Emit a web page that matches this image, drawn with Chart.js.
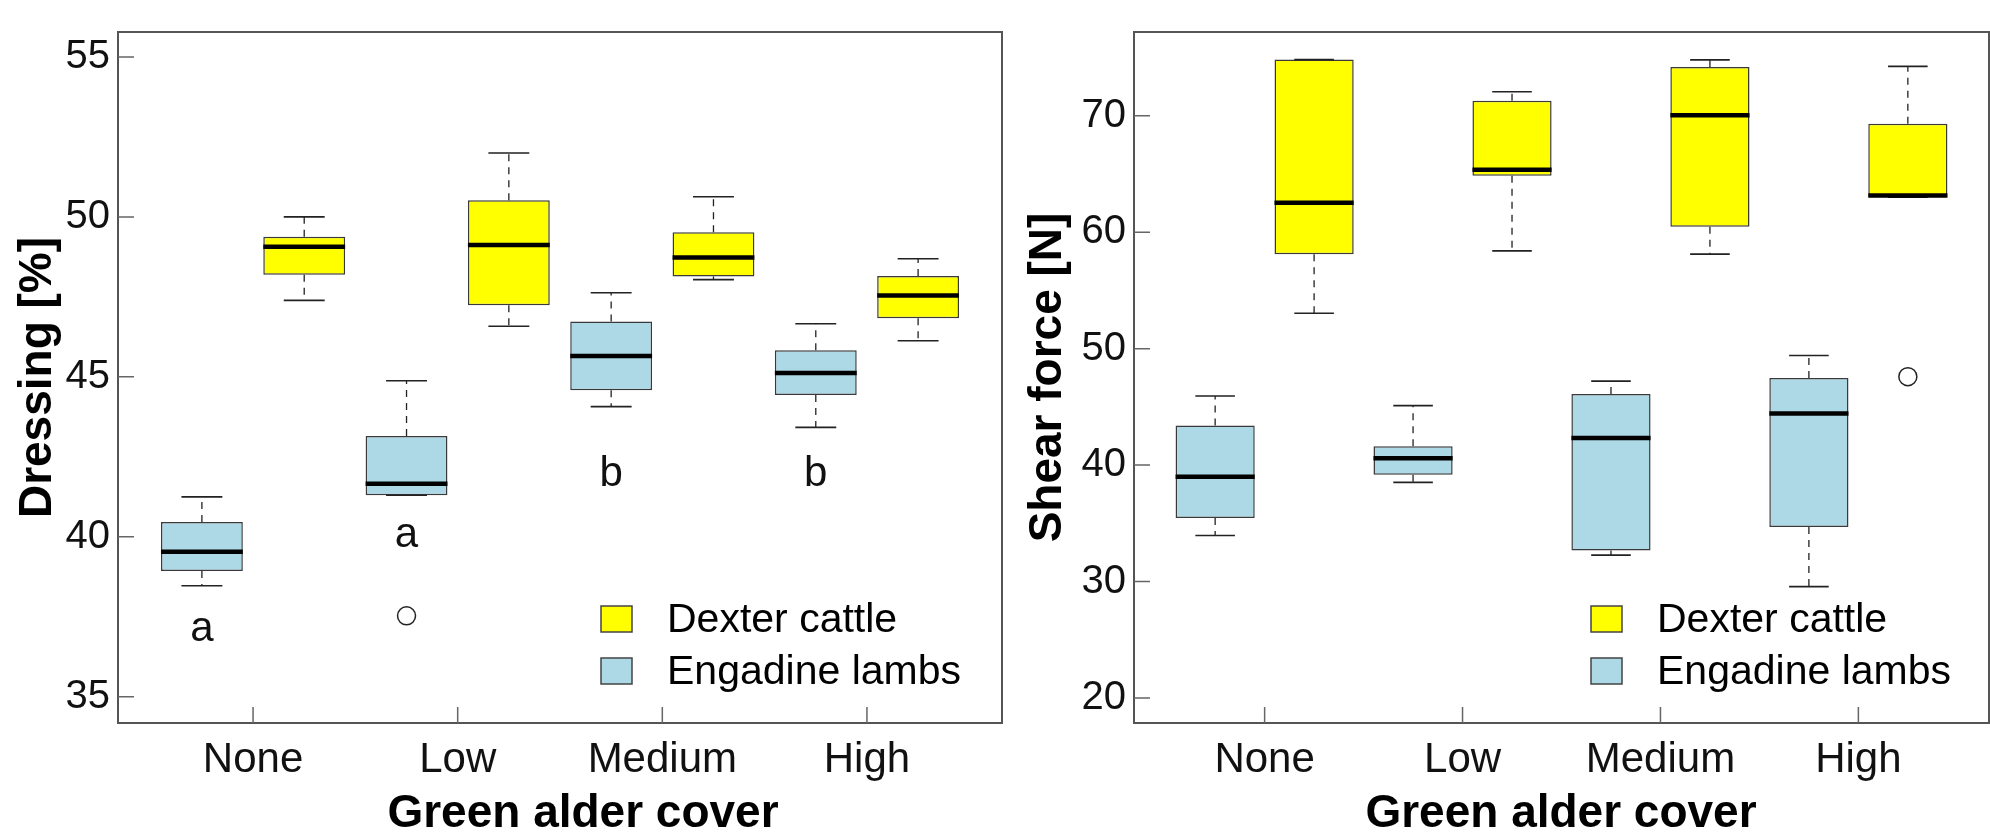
<!DOCTYPE html>
<html>
<head>
<meta charset="utf-8">
<script src="https://cdn.jsdelivr.net/npm/chart.js@4.4.1/dist/chart.umd.min.js"></script>
<style>
  html, body { margin: 0; padding: 0; background: #fff; }
  #wrap { position: relative; width: 1990px; height: 838px; overflow: hidden; }
  canvas { position: absolute; top: 0; }
  #dressingChart { left: 0; }
  #shearChart { left: 1010px; }
</style>
</head>
<body>
<div id="wrap">
  <canvas id="dressingChart" width="1010" height="838"></canvas>
  <canvas id="shearChart" width="980" height="838"></canvas>
</div>
<script>
const categories = ['None', 'Low', 'Medium', 'High'];
const seriesNames = ['Engadine lambs', 'Dexter cattle'];

// [min, q1, median, q3, max] per category
const dressingLambs = [
  [38.47, 38.93, 39.53, 40.46, 41.25],
  [41.30, 41.30, 41.66, 43.15, 44.88],
  [44.07, 44.58, 45.65, 46.73, 47.63],
  [43.42, 44.43, 45.12, 45.83, 46.66]
];
const dressingCattle = [
  [47.39, 48.19, 49.07, 49.38, 50.00],
  [46.58, 47.24, 49.12, 50.52, 52.00],
  [48.04, 48.14, 48.73, 49.52, 50.63],
  [46.13, 46.83, 47.54, 48.15, 48.69]
];
const dressingLambsOutliers = [[], [37.53], [], []];
const dressingCattleOutliers = [[], [], [], []];
const dressingLetters = ['a', 'a', 'b', 'b'];
const dressingLetterY = [37.1, 40.05, 41.95, 41.95];
const dressingTicks = [35, 40, 45, 50, 55];

const shearLambs = [
  [33.95, 35.45, 39.01, 43.40, 45.94],
  [38.52, 39.18, 40.58, 41.62, 45.11],
  [32.27, 32.66, 42.33, 46.10, 47.21],
  [29.56, 34.68, 44.44, 47.49, 49.42]
];
const shearCattle = [
  [53.04, 58.12, 62.54, 74.83, 74.83],
  [58.40, 64.86, 65.36, 71.30, 72.07],
  [58.12, 60.47, 70.06, 74.20, 74.81],
  [63.01, 63.01, 63.15, 69.31, 74.25]
];
const shearLambsOutliers = [[], [], [], []];
const shearCattleOutliers = [[], [], [], [47.6]];
const shearTicks = [20, 30, 40, 50, 60, 70];

const FONT = 'Liberation Sans, Arial, sans-serif';
const LAMB_COLOR = '#add8e6';
const CATTLE_COLOR = '#ffff00';

// draws whiskers, medians, outliers, frame, inward ticks, titles, legend
const boxExtras = {
  id: 'boxExtras',
  afterDatasetsDraw(chart) {
    const ctx = chart.ctx;
    const y = chart.scales.y;
    chart.data.datasets.forEach((ds, d) => {
      const meta = chart.getDatasetMeta(d);
      meta.data.forEach((bar, i) => {
        const [lo, q1, med, q3, hi] = ds.stats[i];
        const x = bar.x, w = bar.width;
        ctx.save();
        ctx.strokeStyle = '#222';
        ctx.lineWidth = 1.3;
        ctx.setLineDash([7, 6]);
        ctx.beginPath();
        ctx.moveTo(x, y.getPixelForValue(q3));
        ctx.lineTo(x, y.getPixelForValue(hi));
        ctx.moveTo(x, y.getPixelForValue(q1));
        ctx.lineTo(x, y.getPixelForValue(lo));
        ctx.stroke();
        ctx.setLineDash([]);
        ctx.lineWidth = 1.6;
        ctx.beginPath();
        ctx.moveTo(x - w / 4, y.getPixelForValue(hi));
        ctx.lineTo(x + w / 4, y.getPixelForValue(hi));
        ctx.moveTo(x - w / 4, y.getPixelForValue(lo));
        ctx.lineTo(x + w / 4, y.getPixelForValue(lo));
        ctx.stroke();
        ctx.strokeStyle = '#000';
        ctx.lineWidth = 4.5;
        ctx.beginPath();
        ctx.moveTo(x - w / 2, y.getPixelForValue(med));
        ctx.lineTo(x + w / 2, y.getPixelForValue(med));
        ctx.stroke();
        ctx.lineWidth = 1.5;
        ctx.strokeStyle = '#222';
        ctx.fillStyle = '#fff';
        (ds.outliers[i] || []).forEach(v => {
          ctx.beginPath();
          ctx.arc(x, y.getPixelForValue(v), 9, 0, Math.PI * 2);
          ctx.fill();
          ctx.stroke();
        });
        ctx.restore();
      });
    });
  },
  afterDraw(chart, args, opts) {
    const ctx = chart.ctx;
    const area = chart.chartArea;
    const xs = chart.scales.x, ys = chart.scales.y;
    ctx.save();
    // frame
    ctx.strokeStyle = '#555';
    ctx.lineWidth = 2;
    ctx.strokeRect(area.left, area.top, area.right - area.left, area.bottom - area.top);
    // inward tick marks
    ctx.strokeStyle = '#666';
    ctx.lineWidth = 1.5;
    ctx.beginPath();
    xs.ticks.forEach(t => {
      const px = xs.getPixelForValue(t.value);
      ctx.moveTo(px, area.bottom);
      ctx.lineTo(px, area.bottom - 16);
    });
    ys.ticks.forEach(t => {
      const py = ys.getPixelForValue(t.value);
      ctx.moveTo(area.left, py);
      ctx.lineTo(area.left + 16, py);
    });
    ctx.stroke();

    // group letters near lamb boxes
    if (opts.letters) {
      const lambMeta = chart.getDatasetMeta(0);
      ctx.fillStyle = '#111';
      ctx.font = '42px ' + FONT;
      ctx.textAlign = 'center';
      ctx.textBaseline = 'middle';
      opts.letters.forEach((s, i) => {
        ctx.fillText(s, lambMeta.data[i].x, ys.getPixelForValue(opts.letterY[i]));
      });
    }

    // legend, bottom right inside plot
    const legendItems = [
      { text: seriesNames[1], color: CATTLE_COLOR },
      { text: seriesNames[0], color: LAMB_COLOR }
    ];
    ctx.font = '41px ' + FONT;
    ctx.textAlign = 'left';
    ctx.textBaseline = 'middle';
    legendItems.forEach((it, k) => {
      const cy = area.bottom - 104 + k * 52;
      const sx = area.right - opts.legendOffset;
      ctx.fillStyle = it.color;
      ctx.fillRect(sx, cy - 13, 31, 26);
      ctx.strokeStyle = '#444';
      ctx.lineWidth = 1.5;
      ctx.strokeRect(sx, cy - 13, 31, 26);
      ctx.fillStyle = '#000';
      ctx.fillText(it.text, sx + 66, cy + 2);
    });

    // axis titles
    ctx.fillStyle = '#000';
    ctx.font = 'bold 46px ' + FONT;
    ctx.textAlign = 'center';
    ctx.textBaseline = 'alphabetic';
    ctx.fillText(opts.xTitle, opts.xTitleX, 827);
    ctx.translate(opts.yTitleX, (area.top + area.bottom) / 2);
    ctx.rotate(-Math.PI / 2);
    ctx.fillText(opts.yTitle, 0, 0);
    ctx.restore();
  }
};

function makePanel(canvasId, cfg) {
  const datasets = [
    { label: seriesNames[0], stats: cfg.lambs, outliers: cfg.lambsOut, color: LAMB_COLOR },
    { label: seriesNames[1], stats: cfg.cattle, outliers: cfg.cattleOut, color: CATTLE_COLOR }
  ].map(s => ({
    label: s.label,
    data: s.stats.map((st, i) => ({ x: i + 1, y: [st[1], st[3]] })),
    stats: s.stats,
    outliers: s.outliers,
    backgroundColor: s.color,
    borderColor: '#3a3a3a',
    borderWidth: 1.5,
    borderSkipped: false,
    categoryPercentage: 1,
    barPercentage: 0.8
  }));

  return new Chart(document.getElementById(canvasId), {
    type: 'bar',
    data: { datasets },
    plugins: [boxExtras],
    options: {
      responsive: false,
      animation: false,
      devicePixelRatio: 1,
      layout: { padding: { top: 7, right: cfg.padRight, left: 0, bottom: 0 } },
      plugins: {
        legend: { display: false },
        tooltip: { enabled: false },
        boxExtras: {
          letters: cfg.letters,
          letterY: cfg.letterY,
          xTitle: 'Green alder cover',
          xTitleX: cfg.xTitleX,
          yTitle: cfg.yTitle,
          yTitleX: cfg.yTitleX,
          legendOffset: cfg.legendOffset
        }
      },
      scales: {
        x: {
          type: 'linear',
          offset: false,
          min: 0.34,
          max: 4.66,
          afterBuildTicks: (s) => { s.ticks = categories.map((c, i) => ({ value: i + 1 })); },
          afterFit: (s) => { s.height = 115; },
          grid: { display: false, drawTicks: false, offset: false },
          border: { display: false },
          ticks: {
            autoSkip: false,
            maxRotation: 0,
            padding: 12,
            color: '#111',
            font: { size: 42, family: FONT },
            callback: (v) => categories[v - 1]
          }
        },
        y: {
          min: cfg.yMin,
          max: cfg.yMax,
          afterBuildTicks: (s) => { s.ticks = cfg.ticks.map(v => ({ value: v })); },
          afterFit: (s) => { s.width = cfg.yWidth; },
          grid: { display: false, drawTicks: false },
          border: { display: false },
          ticks: {
            padding: 8,
            color: '#111',
            font: { size: 40, family: FONT }
          }
        }
      }
    }
  });
}

makePanel('dressingChart', {
  lambs: dressingLambs, cattle: dressingCattle,
  lambsOut: dressingLambsOutliers, cattleOut: dressingCattleOutliers,
  letters: dressingLetters, letterY: dressingLetterY,
  ticks: dressingTicks, yMin: 34.18, yMax: 55.78,
  yWidth: 118, padRight: 8,
  yTitle: 'Dressing [%]', yTitleX: 51, xTitleX: 583,
  legendOffset: 401
});

makePanel('shearChart', {
  lambs: shearLambs, cattle: shearCattle,
  lambsOut: shearLambsOutliers, cattleOut: shearCattleOutliers,
  letters: null, letterY: null,
  ticks: shearTicks, yMin: 17.85, yMax: 77.2,
  yWidth: 124, padRight: 1,
  yTitle: 'Shear force [N]', yTitleX: 51, xTitleX: 551,
  legendOffset: 398
});
</script>
</body>
</html>
